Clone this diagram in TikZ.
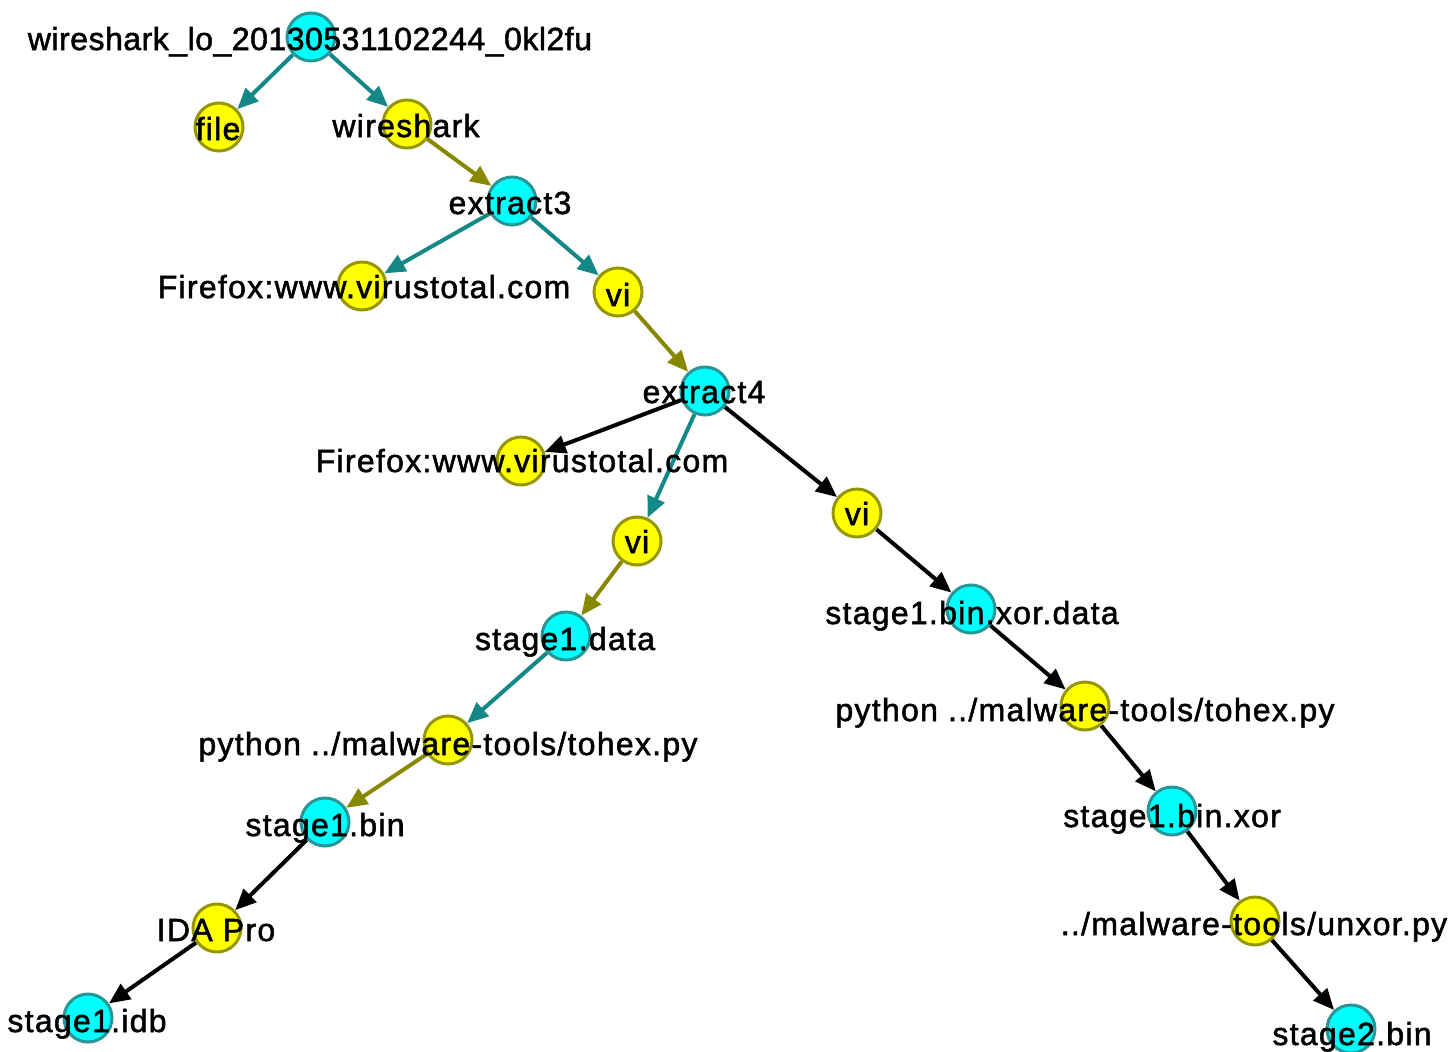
\documentclass[tikz,border=0pt]{standalone}
\usepackage{fontspec}
\newfontfamily\lblfont[LetterSpace=4,FakeBold=1.6]{Liberation Sans}
\newfontfamily\lbltight[LetterSpace=1.6,FakeBold=1.6]{Liberation Sans}
\usetikzlibrary{arrows.meta}
\definecolor{cyanfill}{RGB}{0,255,255}
\definecolor{cyanline}{RGB}{40,150,150}
\definecolor{yelfill}{RGB}{255,255,0}
\definecolor{yelline}{RGB}{150,150,0}
\definecolor{tealedge}{RGB}{20,135,135}
\definecolor{oliveedge}{RGB}{135,135,0}
\tikzset{
  vtx/.style={circle, minimum size=48pt, inner sep=0pt, line width=3pt},
  cnode/.style={vtx, fill=cyanfill, draw=cyanline},
  ynode/.style={vtx, fill=yelfill, draw=yelline},
  lbl/.style={anchor=base, inner sep=0pt, font=\lblfont\fontsize{32}{36}\selectfont, text=black},
  lbltightstyle/.style={lbl, font=\lbltight\fontsize{32}{36}\selectfont},
  edge/.style={line width=4pt, -{Triangle[length=21pt,width=18pt]}},
  tedge/.style={edge, draw=tealedge},
  oedge/.style={edge, draw=oliveedge},
  kedge/.style={edge, draw=black},
}
\begin{document}
\begin{tikzpicture}[x=1pt,y=-1pt]
\useasboundingbox (0,0) rectangle (1449,1052);

% vertex positions (placeholders used as connector ends)
\foreach \n/\x/\y in {root/311/37, file/219/127, wsk/407/124,
  ex3/512/201, ff1/362/286, vi1/618/292, ex4/705/391,
  ff2/521/461, vi2/637/541, vi3/857/513, s1d/566/636,
  s1x/971/609, pyl/448/740, pyr/1085/706, s1b/325/822,
  s1bx/1172/811, ida/217/928, unx/1255/921, idb/88/1018,
  s2b/1351/1029}
  \node[vtx] (\n) at (\x,\y) {};

% connectors
\draw[tedge] (root) -- (file);
\draw[tedge] (root) -- (wsk);
\draw[oedge] (wsk) -- (ex3);
\draw[tedge] (ex3) -- (ff1);
\draw[tedge] (ex3) -- (vi1);
\draw[oedge] (vi1) -- (ex4);
\draw[kedge] (ex4) -- (ff2);
\draw[tedge] (ex4) -- (vi2);
\draw[kedge] (ex4) -- (vi3);
\draw[oedge] (vi2) -- (s1d);
\draw[tedge] (s1d) -- (pyl);
\draw[oedge] (pyl) -- (s1b);
\draw[kedge] (s1b) -- (ida);
\draw[kedge] (ida) -- (idb);
\draw[kedge] (vi3) -- (s1x);
\draw[kedge] (s1x) -- (pyr);
\draw[kedge] (pyr) -- (s1bx);
\draw[kedge] (s1bx) -- (unx);
\draw[kedge] (unx) -- (s2b);

% filled vertices over the connectors
\foreach \n/\s in {root/cnode, file/ynode, wsk/ynode, ex3/cnode, ff1/ynode,
  vi1/ynode, ex4/cnode, ff2/ynode, vi2/ynode, vi3/ynode, s1d/cnode, s1x/cnode,
  pyl/ynode, pyr/ynode, s1b/cnode, s1bx/cnode, ida/ynode, unx/ynode,
  idb/cnode, s2b/cnode}
  \node[\s] (\n-disc) at (\n) {};

% labels
\node[lbltightstyle] (t-root) at (310,50)  {wireshark\_lo\_20130531102244\_0kl2fu};
\node[lbl] (t-file) at (218,140) {file};
\node[lbl] (t-wsk)  at (406,137) {wireshark};
\node[lbl] (t-ex3)  at (510,214) {extract3};
\node[lbl] (t-ff1)  at (364,298) {Firefox:www.virustotal.com};
\node[lbl] (t-vi1)  at (618,306) {vi};
\node[lbl] (t-ex4)  at (704,403) {extract4};
\node[lbl] (t-ff2)  at (522,472) {Firefox:www.virustotal.com};
\node[lbl] (t-vi2)  at (637,553) {vi};
\node[lbl] (t-vi3)  at (857,525) {vi};
\node[lbl] (t-s1d)  at (565,650) {stage1.data};
\node[lbl] (t-s1x)  at (972,624) {stage1.bin.xor.data};
\node[lbl] (t-pyl)  at (448,755) {python ../malware-tools/tohex.py};
\node[lbl] (t-pyr)  at (1085,721) {python ../malware-tools/tohex.py};
\node[lbl] (t-s1b)  at (325,836) {stage1.bin};
\node[lbl] (t-s1bx) at (1172,827) {stage1.bin.xor};
\node[lbl] (t-ida)  at (216,941) {IDA Pro};
\node[lbl] (t-unx)  at (1254,935) {../malware-tools/unxor.py};
\node[lbl] (t-idb)  at (87,1032) {stage1.idb};
\node[lbl] (t-s2b)  at (1352,1045) {stage2.bin};
\end{tikzpicture}
\end{document}
